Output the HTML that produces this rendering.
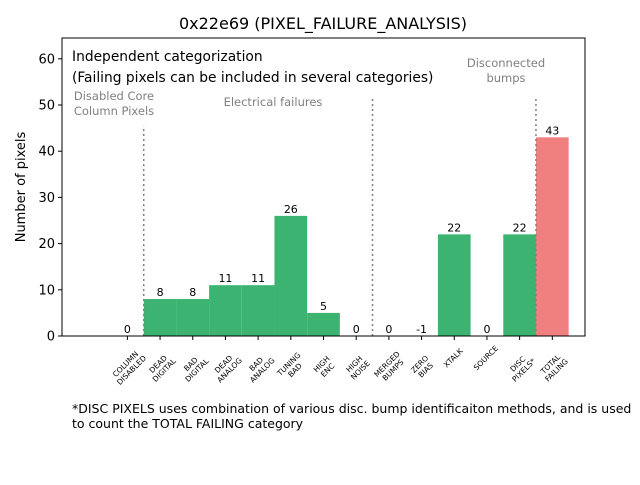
<!DOCTYPE html>
<html><head><meta charset="utf-8"><style>
body{margin:0;background:#fff;font-family:"Liberation Sans","DejaVu Sans",sans-serif}
svg text{font-family:"DejaVu Sans","Liberation Sans",sans-serif}
</style></head><body>
<svg id="chart" width="640" height="480" viewBox="0 0 640 480">
<rect width="640" height="480" fill="#fff"/>
<text x="323" y="29" font-size="16" text-anchor="middle">0x22e69 (PIXEL_FAILURE_ANALYSIS)</text>
<g id="plot"></g>
<rect x="62" y="38" width="523" height="298" fill="none" stroke="#000" stroke-width="1"/>
<text x="72" y="61" font-size="13.8">Independent categorization</text>
<text x="72" y="82" font-size="13.8">(Failing pixels can be included in several categories)</text>
<text x="114" y="100" font-size="11.5" fill="#808080" text-anchor="middle">Disabled Core</text>
<text x="114" y="115" font-size="11.5" fill="#808080" text-anchor="middle">Column Pixels</text>
<text x="273" y="106" font-size="11.5" fill="#808080" text-anchor="middle">Electrical failures</text>
<text x="506" y="67" font-size="11.5" fill="#808080" text-anchor="middle">Disconnected</text>
<text x="506" y="82" font-size="11.5" fill="#808080" text-anchor="middle">bumps</text>
<text transform="translate(25,187) rotate(-90)" font-size="13" text-anchor="middle">Number of pixels</text>
<text x="72" y="413" font-size="12.5">*DISC PIXELS uses combination of various disc. bump identificaiton methods, and is used</text>
<text x="72" y="428" font-size="12.5">to count the TOTAL FAILING category</text>
</svg>
<script>
const categories=[["COLUMN","DISABLED"],["DEAD","DIGITAL"],["BAD","DIGITAL"],["DEAD","ANALOG"],["BAD","ANALOG"],["TUNING","BAD"],["HIGH","ENC"],["HIGH","NOISE"],["MERGED","BUMPS"],["ZERO","BIAS"],["XTALK",""],["SOURCE",""],["DISC","PIXELS*"],["TOTAL","FAILING"]];
const values=[0,8,8,11,11,26,5,0,0,-1,22,0,22,43];
const yTicks=[0,10,20,30,40,50,60];
const dividers=[[0.5,45.5],[7.5,51.7],[12.5,51.7]];
const NS="http://www.w3.org/2000/svg";
const g=document.getElementById('plot');
const X0=62,X1=585,Y0=336,Y1=38,XMIN=-2,XMAX=14,YMAX=64.5;
function sx(v){return X0+(v-XMIN)/(XMAX-XMIN)*(X1-X0);}
function sy(v){return Y0-v/YMAX*(Y0-Y1);}
function mk(t,a){const e=document.createElementNS(NS,t);for(const k in a)e.setAttribute(k,a[k]);g.appendChild(e);return e;}
values.forEach((v,i)=>{
  const h=Math.max(0,v);
  const r=mk('rect',{x:sx(i-0.5),y:sy(h),width:sx(i+0.5)-sx(i-0.5),height:sy(0)-sy(h),fill:i===categories.length-1?'#f08080':'#3cb371'});
  
  
  const t=mk('text',{x:sx(i),y:sy(h)-3,'font-size':11,'text-anchor':'middle'});t.textContent=v;
  
  
  mk('line',{x1:sx(i),x2:sx(i),y1:Y0,y2:Y0+4,stroke:'#000'});
  const two=!!categories[i][1];
  const lg=mk('g',{transform:`translate(${sx(i)+(two?1:-1)},${Y0+(two?31:22)}) rotate(-45)`});
  
  
  categories[i].forEach((ln,j)=>{
    if(!ln)return;
    const tt=document.createElementNS(NS,'text');
    tt.setAttribute('x',0);tt.setAttribute('y',two?(j===0?-1.5:7):2.5);
    tt.setAttribute('font-size','7.5');tt.setAttribute('text-anchor','middle');
    tt.textContent=ln;lg.appendChild(tt);
  });
});
dividers.forEach(d=>{
  const l=mk('line',{x1:sx(d[0]),x2:sx(d[0]),y1:sy(0),y2:sy(d[1]),stroke:'#808080','stroke-width':1.5,'stroke-dasharray':'2,3'});
  
  
});
yTicks.forEach(v=>{
  mk('line',{x1:X0-4,x2:X0,y1:sy(v),y2:sy(v),stroke:'#000'});
  const t=mk('text',{x:X0-7,y:sy(v)+4.5,'font-size':13,'text-anchor':'end'});t.textContent=v;
  
  
});
</script>
</body></html>
